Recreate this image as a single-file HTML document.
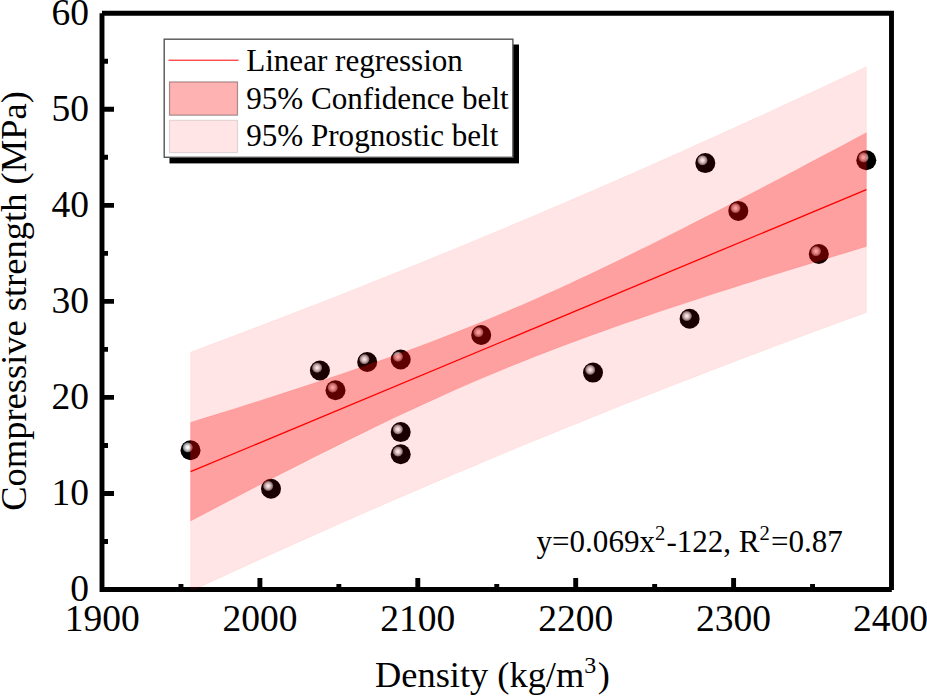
<!DOCTYPE html>
<html><head><meta charset="utf-8"><title>Density vs compressive strength</title>
<style>
html,body{margin:0;padding:0;background:#fff;}
body{width:927px;height:696px;overflow:hidden;}
svg{display:block}
text{font-family:"Liberation Serif","Times New Roman",serif;fill:#000}
</style></head><body>
<svg width="927" height="696" viewBox="0 0 927 696">
<defs>
<radialGradient id="hl" cx="0.5" cy="0.5" r="0.5">
<stop offset="0" stop-color="#fff"/><stop offset="0.18" stop-color="#f8f8f8"/><stop offset="0.5" stop-color="#c6c6c6"/><stop offset="0.78" stop-color="#888"/><stop offset="0.92" stop-color="#3c3c3c"/><stop offset="1" stop-color="#000"/>
</radialGradient>
<clipPath id="plot"><rect x="102.0" y="13.25" width="789.5" height="576.25"/></clipPath>
</defs>
<rect width="927" height="696" fill="#fff"/>

<g stroke="#000" stroke-width="4.9" fill="none" stroke-linecap="butt">
<path d="M102.0,591.95 V13.25 M102.0,13.25 H893.95 M891.5,13.25 V590.0 M99.55,589.5 H891.8"/>
<path d="M102.0,541.48 h6 M102.0,493.46 h12 M102.0,445.44 h6 M102.0,397.42 h12 M102.0,349.40 h6 M102.0,301.38 h12 M102.0,253.35 h6 M102.0,205.33 h12 M102.0,157.31 h6 M102.0,109.29 h12 M102.0,61.27 h6 M180.95,589.5 v-5.5 M259.90,589.5 v-11.5 M338.85,589.5 v-5.5 M417.80,589.5 v-11.5 M496.75,589.5 v-5.5 M575.70,589.5 v-11.5 M654.65,589.5 v-5.5 M733.60,589.5 v-11.5 M812.55,589.5 v-5.5 "/></g>
<g>
<circle cx="190.5" cy="450.2" r="10" fill="#000"/><circle cx="187.7" cy="447.4" r="5.4" fill="url(#hl)"/>
<circle cx="271" cy="488.7" r="10" fill="#000"/><circle cx="268.2" cy="485.9" r="5.4" fill="url(#hl)"/>
<circle cx="319.9" cy="370.5" r="10" fill="#000"/><circle cx="317.09999999999997" cy="367.7" r="5.4" fill="url(#hl)"/>
<circle cx="335.5" cy="390.3" r="10" fill="#000"/><circle cx="332.7" cy="387.5" r="5.4" fill="url(#hl)"/>
<circle cx="367.2" cy="362" r="10" fill="#000"/><circle cx="364.4" cy="359.2" r="5.4" fill="url(#hl)"/>
<circle cx="400.7" cy="359.5" r="10" fill="#000"/><circle cx="397.9" cy="356.7" r="5.4" fill="url(#hl)"/>
<circle cx="400.7" cy="432.1" r="10" fill="#000"/><circle cx="397.9" cy="429.3" r="5.4" fill="url(#hl)"/>
<circle cx="400.7" cy="454.3" r="10" fill="#000"/><circle cx="397.9" cy="451.5" r="5.4" fill="url(#hl)"/>
<circle cx="481.2" cy="335" r="10" fill="#000"/><circle cx="478.4" cy="332.2" r="5.4" fill="url(#hl)"/>
<circle cx="593" cy="372.6" r="10" fill="#000"/><circle cx="590.2" cy="369.8" r="5.4" fill="url(#hl)"/>
<circle cx="689.6" cy="318.8" r="10" fill="#000"/><circle cx="686.8000000000001" cy="316.0" r="5.4" fill="url(#hl)"/>
<circle cx="705.3" cy="163.1" r="10" fill="#000"/><circle cx="702.5" cy="160.29999999999998" r="5.4" fill="url(#hl)"/>
<circle cx="738.3" cy="210.9" r="10" fill="#000"/><circle cx="735.5" cy="208.1" r="5.4" fill="url(#hl)"/>
<circle cx="818.8" cy="254" r="10" fill="#000"/><circle cx="816.0" cy="251.2" r="5.4" fill="url(#hl)"/>
<circle cx="866.3" cy="160.2" r="10" fill="#000"/><circle cx="863.5" cy="157.39999999999998" r="5.4" fill="url(#hl)"/>
</g>
<g clip-path="url(#plot)"><path d="M190.60,352.15 L202.05,347.88 L213.51,343.59 L224.96,339.28 L236.42,334.95 L247.87,330.61 L259.33,326.25 L270.78,321.87 L282.23,317.47 L293.69,313.05 L305.14,308.61 L316.60,304.15 L328.05,299.68 L339.51,295.18 L350.96,290.67 L362.41,286.13 L373.87,281.58 L385.32,277.00 L396.78,272.41 L408.23,267.79 L419.68,263.16 L431.14,258.50 L442.59,253.82 L454.05,249.13 L465.50,244.41 L476.96,239.67 L488.41,234.91 L499.86,230.13 L511.32,225.33 L522.77,220.51 L534.23,215.67 L545.68,210.81 L557.14,205.92 L568.59,201.02 L580.04,196.10 L591.50,191.15 L602.95,186.19 L614.41,181.20 L625.86,176.20 L637.32,171.17 L648.77,166.13 L660.22,161.07 L671.68,155.98 L683.13,150.88 L694.59,145.76 L706.04,140.62 L717.49,135.46 L728.95,130.28 L740.40,125.08 L751.86,119.87 L763.31,114.63 L774.77,109.38 L786.22,104.11 L797.67,98.82 L809.13,93.52 L820.58,88.20 L832.04,82.86 L843.49,77.51 L854.95,72.14 L866.40,66.75 L866.40,312.46 L854.95,316.64 L843.49,320.83 L832.04,325.04 L820.58,329.26 L809.13,333.50 L797.67,337.76 L786.22,342.04 L774.77,346.33 L763.31,350.64 L751.86,354.97 L740.40,359.31 L728.95,363.68 L717.49,368.06 L706.04,372.46 L694.59,376.88 L683.13,381.32 L671.68,385.78 L660.22,390.26 L648.77,394.76 L637.32,399.28 L625.86,403.81 L614.41,408.37 L602.95,412.95 L591.50,417.55 L580.04,422.16 L568.59,426.80 L557.14,431.46 L545.68,436.14 L534.23,440.84 L522.77,445.56 L511.32,450.30 L499.86,455.06 L488.41,459.84 L476.96,464.65 L465.50,469.47 L454.05,474.31 L442.59,479.18 L431.14,484.06 L419.68,488.97 L408.23,493.89 L396.78,498.84 L385.32,503.81 L373.87,508.79 L362.41,513.80 L350.96,518.83 L339.51,523.87 L328.05,528.94 L316.60,534.03 L305.14,539.13 L293.69,544.26 L282.23,549.40 L270.78,554.56 L259.33,559.74 L247.87,564.94 L236.42,570.16 L224.96,575.39 L213.51,580.65 L202.05,585.92 L190.60,591.21Z" fill="#f00" fill-opacity="0.1" stroke="#f00" stroke-opacity="0.05" stroke-width="1"/>
<path d="M190.60,422.39 L202.05,418.85 L213.51,415.30 L224.96,411.73 L236.42,408.14 L247.87,404.53 L259.33,400.89 L270.78,397.23 L282.23,393.55 L293.69,389.83 L305.14,386.09 L316.60,382.31 L328.05,378.49 L339.51,374.63 L350.96,370.73 L362.41,366.79 L373.87,362.79 L385.32,358.74 L396.78,354.63 L408.23,350.46 L419.68,346.22 L431.14,341.92 L442.59,337.54 L454.05,333.09 L465.50,328.55 L476.96,323.94 L488.41,319.25 L499.86,314.47 L511.32,309.61 L522.77,304.67 L534.23,299.65 L545.68,294.55 L557.14,289.38 L568.59,284.13 L580.04,278.81 L591.50,273.43 L602.95,267.98 L614.41,262.48 L625.86,256.92 L637.32,251.31 L648.77,245.65 L660.22,239.95 L671.68,234.21 L683.13,228.44 L694.59,222.62 L706.04,216.78 L717.49,210.91 L728.95,205.01 L740.40,199.08 L751.86,193.14 L763.31,187.17 L774.77,181.18 L786.22,175.17 L797.67,169.15 L809.13,163.11 L820.58,157.06 L832.04,150.99 L843.49,144.91 L854.95,138.82 L866.40,132.72 L866.40,246.49 L854.95,249.95 L843.49,253.43 L832.04,256.91 L820.58,260.40 L809.13,263.91 L797.67,267.44 L786.22,270.97 L774.77,274.53 L763.31,278.10 L751.86,281.70 L740.40,285.31 L728.95,288.95 L717.49,292.61 L706.04,296.30 L694.59,300.02 L683.13,303.77 L671.68,307.55 L660.22,311.37 L648.77,315.23 L637.32,319.14 L625.86,323.09 L614.41,327.10 L602.95,331.15 L591.50,335.27 L580.04,339.45 L568.59,343.69 L557.14,348.01 L545.68,352.39 L534.23,356.85 L522.77,361.40 L511.32,366.02 L499.86,370.72 L488.41,375.51 L476.96,380.37 L465.50,385.32 L454.05,390.35 L442.59,395.46 L431.14,400.65 L419.68,405.90 L408.23,411.23 L396.78,416.62 L385.32,422.07 L373.87,427.58 L362.41,433.15 L350.96,438.76 L339.51,444.42 L328.05,450.13 L316.60,455.87 L305.14,461.65 L293.69,467.47 L282.23,473.32 L270.78,479.19 L259.33,485.10 L247.87,491.02 L236.42,496.97 L224.96,502.95 L213.51,508.94 L202.05,514.94 L190.60,520.97Z" fill="#f00" fill-opacity="0.3" stroke="#f00" stroke-opacity="0.1" stroke-width="1"/>
<path d="M190.6,471.68 L866.4,189.6071622" stroke="#f00" stroke-width="1.3" fill="none"/></g>
<rect x="169.5" y="44.5" width="349.5" height="118.9" fill="#000"/>
<rect x="164.2" y="39.2" width="348.7" height="118.1" fill="#fff" stroke="#555" stroke-width="1.4"/>
<path d="M168.5,60.2 H238.5" stroke="#f00" stroke-width="1"/>
<rect x="169.5" y="81.9" width="68" height="33.3" fill="#f00" fill-opacity="0.3" stroke="#000" stroke-opacity="0.35" stroke-width="1.2"/>
<rect x="169.5" y="120.3" width="68" height="32.3" fill="#f00" fill-opacity="0.1" stroke="#000" stroke-opacity="0.12" stroke-width="1.2"/>
<g font-size="31.1"><text x="246.2" y="70.7">Linear regression</text><text x="246.2" y="108.7">95% Confidence belt</text><text x="246.2" y="146.3">95% Prognostic belt</text></g>
<g font-size="37.5" text-anchor="end">
<text x="89" y="601.1">0</text>
<text x="89" y="505.1">10</text>
<text x="89" y="409.0">20</text>
<text x="89" y="313.0">30</text>
<text x="89" y="216.9">40</text>
<text x="89" y="120.9">50</text>
<text x="89" y="24.9">60</text>
</g><g font-size="37.5" text-anchor="middle">
<text x="102.2" y="630.9">1900</text>
<text x="259.9" y="630.9">2000</text>
<text x="417.8" y="630.9">2100</text>
<text x="575.7" y="630.9">2200</text>
<text x="733.6" y="630.9">2300</text>
<text x="890.5" y="630.9">2400</text>
</g>
<text font-size="36.4" text-anchor="middle" x="492.4" y="687.4">Density (kg/m<tspan font-size="24" dy="-14.1">3</tspan><tspan dy="14.1" dx="1.4">)</tspan></text>
<text font-size="36.5" text-anchor="middle" transform="translate(26.4,301) rotate(-90)">Compressive strength (MPa)</text>
<text font-size="31.07" x="536.5" y="551.6">y=0.069x<tspan font-size="20.6" dy="-11.9">2</tspan><tspan dy="11.9" dx="1.1">-122, R</tspan><tspan font-size="20.6" dy="-11.9">2</tspan><tspan dy="11.9" dx="1.1">=0.87</tspan></text>
</svg></body></html>
